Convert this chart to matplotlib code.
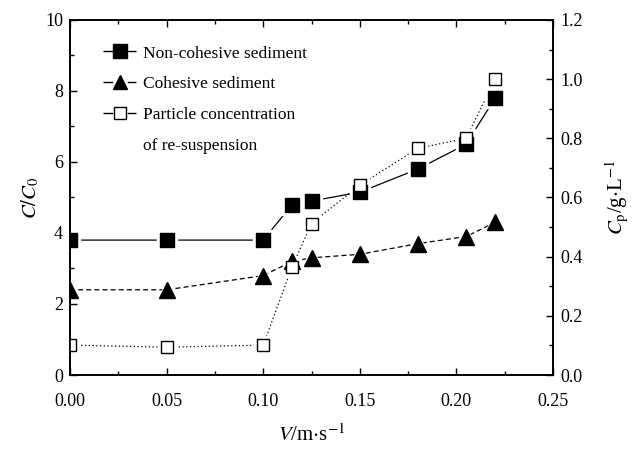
import numpy as np
import matplotlib
matplotlib.use("Agg")
import matplotlib.pyplot as plt
from matplotlib.lines import Line2D
from matplotlib.ticker import MultipleLocator

plt.rcParams["font.family"] = ["Liberation Serif", "DejaVu Serif"]
plt.rcParams["mathtext.fontset"] = "stix"

# data
velocity = [0.0, 0.05, 0.10, 0.115, 0.125, 0.15, 0.18, 0.205, 0.22]
non_cohesive = [3.8, 3.8, 3.8, 4.8, 4.9, 5.15, 5.8, 6.5, 7.8]
cohesive = [2.4, 2.4, 2.8, 3.2, 3.3, 3.4, 3.7, 3.9, 4.3]
particle_conc = [0.101, 0.094, 0.101, 0.366, 0.512, 0.642, 0.766, 0.80, 1.0]

labels = ["Non-cohesive sediment", "Cohesive sediment",
          "Particle concentration", "of re-suspension"]

fig = plt.figure(figsize=(6.38, 4.49), dpi=100)
ax = fig.add_axes([0.1097, 0.1648, 0.7571, 0.7907])
ax2 = ax.twinx()
ax.set_xlim(0, 0.25)
ax.set_ylim(0, 10)
ax2.set_ylim(0, 1.2)
rt = ax2.transData  # right-axis scale, drawn on the left axes so z-order is shared

ms = 10
# lines
ax.plot(velocity, non_cohesive, color="black", lw=0.9, ls="-", zorder=1)
ax.plot(velocity, cohesive, color="black", lw=0.9, ls=(0, (4, 2.5)), zorder=1)
ax.plot(velocity, particle_conc, color="black", lw=0.9, ls=(0, (1, 2)), zorder=1, transform=rt)
# white halos -> small gaps between lines and markers
ax.plot(velocity, non_cohesive, ls="none", marker="s", ms=ms + 4, mfc="white", mec="white", zorder=2)
ax.plot(velocity, cohesive, ls="none", marker="^", ms=ms + 4, mfc="white", mec="white", zorder=2)
ax.plot(velocity, particle_conc, ls="none", marker="s", ms=ms + 3, mfc="white", mec="white", zorder=2, transform=rt)
# markers
ax.plot(velocity, non_cohesive, ls="none", marker="s", ms=ms, mfc="black", mec="black", zorder=3)
ax.plot(velocity, cohesive, ls="none", marker="^", ms=ms + 1, mfc="black", mec="black", zorder=3)
ax.plot(velocity, particle_conc, ls="none", marker="s", ms=ms - 1, mfc="white", mec="black", mew=1.0, zorder=4, transform=rt)

ax.set_xlim(0, 0.25)
ax.set_ylim(0, 10)

ax.xaxis.set_major_locator(MultipleLocator(0.05))
ax.xaxis.set_minor_locator(MultipleLocator(0.025))
ax.yaxis.set_major_locator(MultipleLocator(2))
ax.yaxis.set_minor_locator(MultipleLocator(1))
ax2.yaxis.set_major_locator(MultipleLocator(0.2))
ax2.yaxis.set_minor_locator(MultipleLocator(0.1))
ax.xaxis.set_major_formatter(plt.FuncFormatter(lambda v, p: f"{v:.2f}"))
ax.yaxis.set_major_formatter(plt.FuncFormatter(lambda v, p: f"{v:.0f}"))
ax2.yaxis.set_major_formatter(plt.FuncFormatter(lambda v, p: f"{v:.1f}"))

ax.tick_params(axis="x", which="both", direction="in", top=True, labelsize=13, pad=13)
ax.tick_params(axis="y", which="both", direction="in", labelsize=13, pad=5)
ax2.tick_params(axis="y", which="both", direction="in", labelsize=13, pad=5)
for a in (ax, ax2):
    a.tick_params(which="major", length=5, width=1)
    a.tick_params(which="minor", length=3, width=1)
    for s in a.spines.values():
        s.set_linewidth(1.2)

ax.set_xlabel(r"$V$/m$\cdot$s$^{-1}$", fontsize=15, labelpad=10)
ax.set_ylabel(r"$C/C_0$", fontsize=15, labelpad=3)
ax2.set_ylabel(r"$C_\mathrm{p}$/g$\cdot$L$^{-1}$", fontsize=15, labelpad=15)

gap_ls = (0, (7, 10.5, 7, 100))
handles = [
    Line2D([], [], color="black", lw=1, ls=gap_ls, marker="s", ms=10, mfc="black", mec="black"),
    Line2D([], [], color="black", lw=1, ls=gap_ls, marker="^", ms=10, mfc="black", mec="black"),
    Line2D([], [], color="black", lw=1, ls=gap_ls, marker="s", ms=9, mfc="white", mec="black"),
    Line2D([], [], ls="none", marker="none"),
]
leg = ax.legend(handles, labels, loc="upper left", bbox_to_anchor=(0.055, 0.948),
                frameon=False, fontsize=12.5, handlelength=1.85, handletextpad=0.4,
                labelspacing=0.85, borderaxespad=0)

fig.savefig("out.png", dpi=100)
